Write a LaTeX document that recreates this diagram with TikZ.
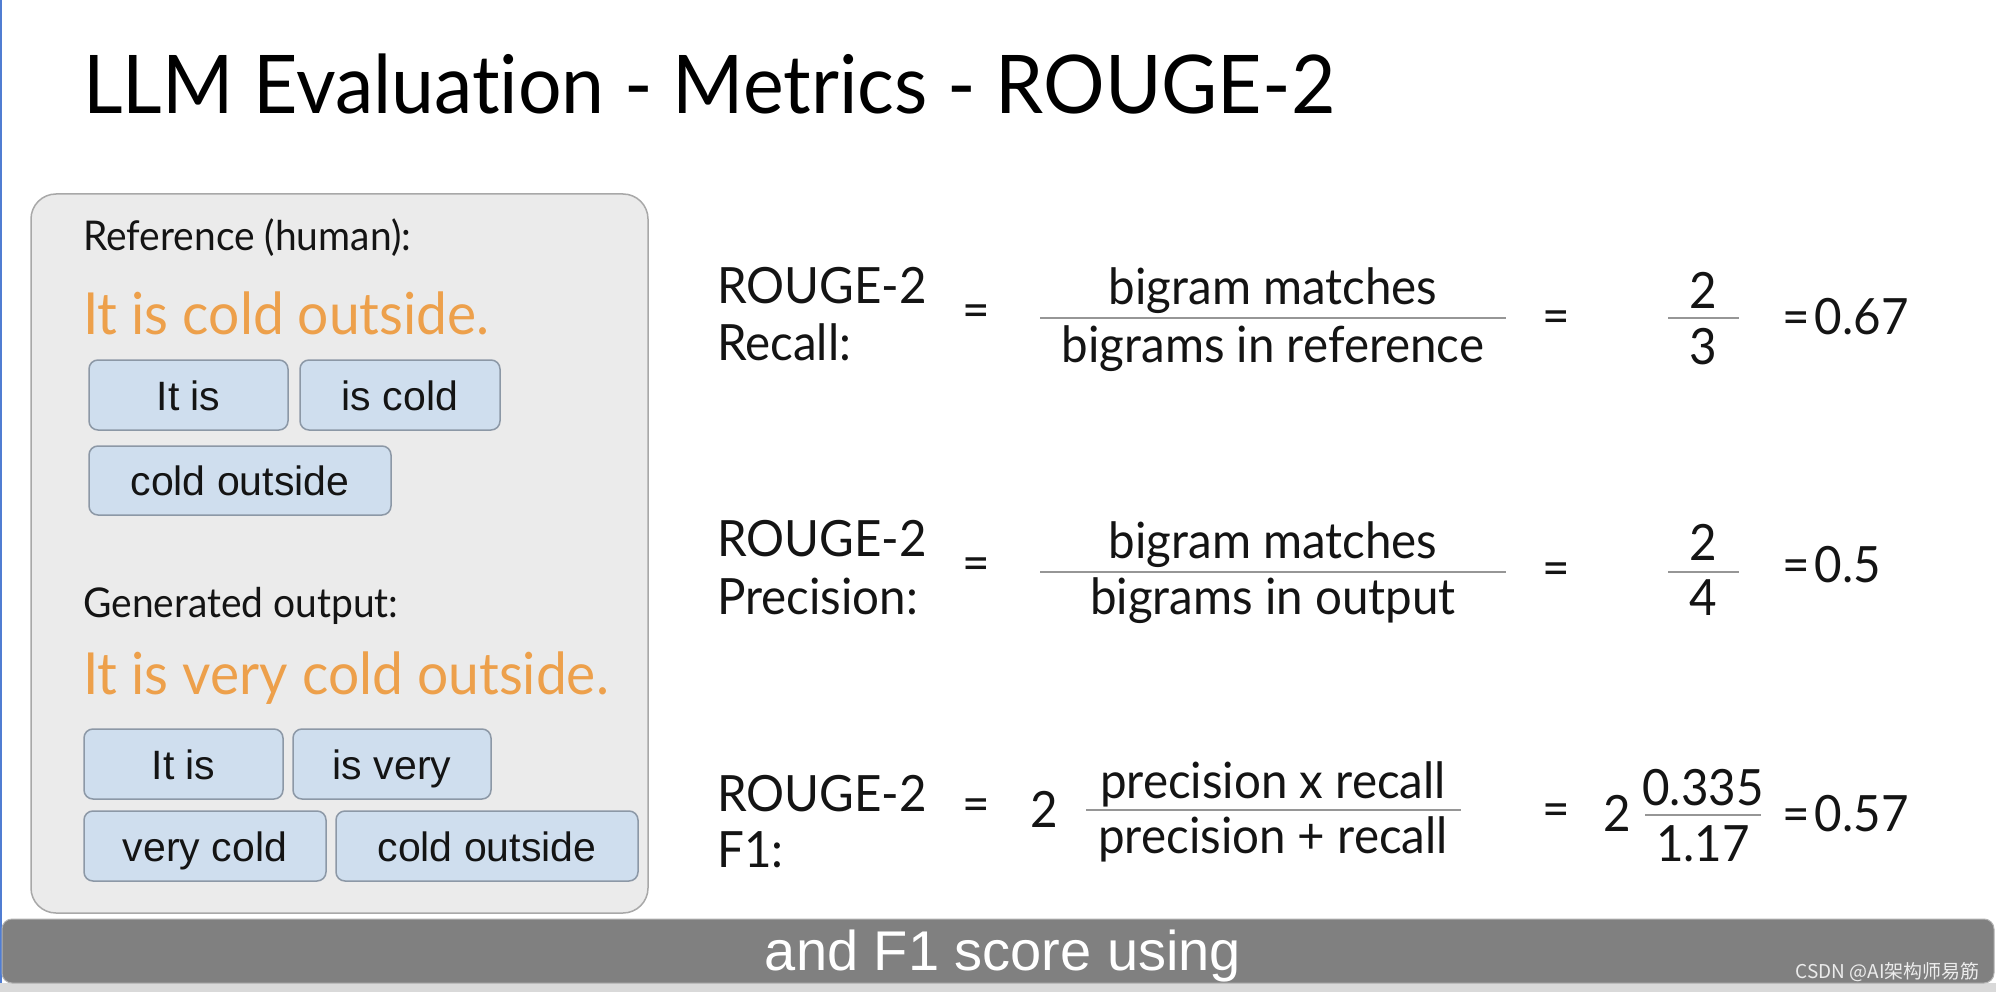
\documentclass[tikz,border=0pt]{standalone}
\usepackage{fontspec}
\setmainfont{Lato}[FakeStretch=0.95, Ligatures={NoCommon}]
\newfontfamily\arialf{Liberation Sans}
\newfontfamily\cjkf{Noto Sans CJK SC}
\definecolor{txt}{RGB}{20,20,20}
\definecolor{orng}{RGB}{237,160,75}
\definecolor{panelfill}{RGB}{235,235,235}
\definecolor{panelbord}{RGB}{168,168,168}
\definecolor{bfill}{RGB}{207,222,238}
\definecolor{bbord}{RGB}{140,152,166}
\definecolor{barfill}{RGB}{128,128,128}
\definecolor{fracline}{RGB}{150,150,150}
\definecolor{edgeblue}{RGB}{80,125,210}
\tikzset{
  lbl/.style={anchor=base west, inner sep=0pt, text=txt, font=\fontsize{50}{60}\selectfont},
  ctr/.style={anchor=base, inner sep=0pt, text=txt, font=\fontsize{50}{60}\selectfont},
  eqs/.style={anchor=center, inner sep=0pt, text=txt, font=\fontsize{50}{60}\selectfont},
  bigram/.style={draw=bbord, fill=bfill, rounded corners=9pt, line width=1.5pt,
     inner sep=0pt, text height=30pt, text depth=0pt, text=txt,
     font=\arialf\fontsize{41}{48}\selectfont},
  frac/.style={draw=fracline, line width=2.5pt},
}
\begin{document}
\begin{tikzpicture}[x=1pt,y=-1pt]
\useasboundingbox (0,0) rectangle (1996,992);
\fill[white] (0,0) rectangle (1996,992);
% left edge line
\draw[edgeblue, line width=2pt] (1,0) -- (1,992);
% title
\node[anchor=base west, inner sep=0pt, text=black, font=\fontsize{81}{96}\selectfont] (title) at (83,114) {LLM Evaluation - Metrics - ROUGE-2};
% left panel
\draw[draw=panelbord, fill=panelfill, line width=1.5pt, rounded corners=25pt] (31,194) rectangle (648,913);
\node[lbl, font=\fontsize{41}{48}\selectfont] (refh) at (83,251) {Reference (human):};
\node[lbl, text=orng, font=\fontsize{58}{70}\selectfont] (refs) at (83,334) {It is cold outside.};
\node[bigram, minimum width=199pt, minimum height=70pt] (r1) at (188.5,395) {It is};
\node[bigram, minimum width=200pt, minimum height=70pt] (r2) at (400,395) {is cold};
\node[bigram, minimum width=302pt, minimum height=69pt] (r3) at (240,480.5) {cold outside};
\node[lbl, font=\fontsize{41}{48}\selectfont] (genh) at (83,617) {Generated output:};
\node[lbl, text=orng, font=\fontsize{58}{70}\selectfont] (gens) at (83,694) {It is very cold outside.};
\node[bigram, minimum width=199pt, minimum height=70pt] (g1) at (183.5,764) {It is};
\node[bigram, minimum width=198pt, minimum height=70pt] (g2) at (392,764) {is very};
\node[bigram, minimum width=242pt, minimum height=70pt] (g3) at (205,846) {very cold};
\node[bigram, minimum width=302pt, minimum height=70pt] (g4) at (487,846) {cold outside};
% recall
\node[lbl] (rl1) at (717,303) {ROUGE-2};
\node[lbl] (rl2) at (717,360) {Recall:};
\node[eqs] (re1) at (976,316) {=};
\node[ctr] (rn) at (1273,305) {bigram matches};
\node[ctr] (rd) at (1273,362) {bigrams in reference};
\draw[frac] (1040,318) -- (1506,318);
\node[eqs] (re2) at (1556,322) {=};
\node[ctr] (rn2) at (1703,308) {2};
\node[ctr] (rd2) at (1703,364) {3};
\draw[frac] (1668,318) -- (1739,318);
\node[lbl] (rres) at (1782,334) {=\kern5pt0.67};
% precision
\node[lbl] (pl1) at (717,556) {ROUGE-2};
\node[lbl] (pl2) at (717,614) {Precision:};
\node[eqs] (pe1) at (976,569) {=};
\node[ctr] (pn) at (1273,558) {bigram matches};
\node[ctr] (pd) at (1273,614) {bigrams in output};
\draw[frac] (1040,572) -- (1506,572);
\node[eqs] (pe2) at (1556,574) {=};
\node[ctr] (pn2) at (1703,560) {2};
\node[ctr] (pd2) at (1703,615) {4};
\draw[frac] (1668,572) -- (1739,572);
\node[lbl] (pres) at (1782,582) {=\kern5pt0.5};
% F1
\node[lbl] (fl1) at (717,811) {ROUGE-2};
\node[lbl] (fl2) at (717,867) {F1:};
\node[eqs] (fe1) at (976,810) {=};
\node[ctr] (f2a) at (1044,827) {2};
\node[ctr] (fn) at (1273,798) {precision x recall};
\node[ctr] (fd) at (1273,853) {precision + recall};
\draw[frac] (1086,810) -- (1461,810);
\node[eqs] (fe2) at (1556,815) {=};
\node[ctr] (f2b) at (1617,831) {2};
\node[ctr] (fn2) at (1703,805) {0.335};
\node[ctr] (fd2) at (1703,861) {1.17};
\draw[frac] (1645,815) -- (1761,815);
\node[lbl] (fres) at (1782,831) {=\kern5pt0.57};
% caption bar
\fill[gray!30] (0,983) rectangle (1996,992);
\draw[fill=barfill, draw=gray!60, line width=1pt, rounded corners=10pt] (2,919) rectangle (1994,983);
\node[anchor=base, inner sep=0pt, text=white, font=\arialf\fontsize{56}{66}\selectfont] (cap) at (1003,970) {and F1 score using};
\node[anchor=base east, inner sep=0pt, text=white!85!gray, font=\cjkf\fontsize{19}{22}\selectfont] (wm) at (1980,978) {CSDN @AI架构师易筋};
\end{tikzpicture}
\end{document}
